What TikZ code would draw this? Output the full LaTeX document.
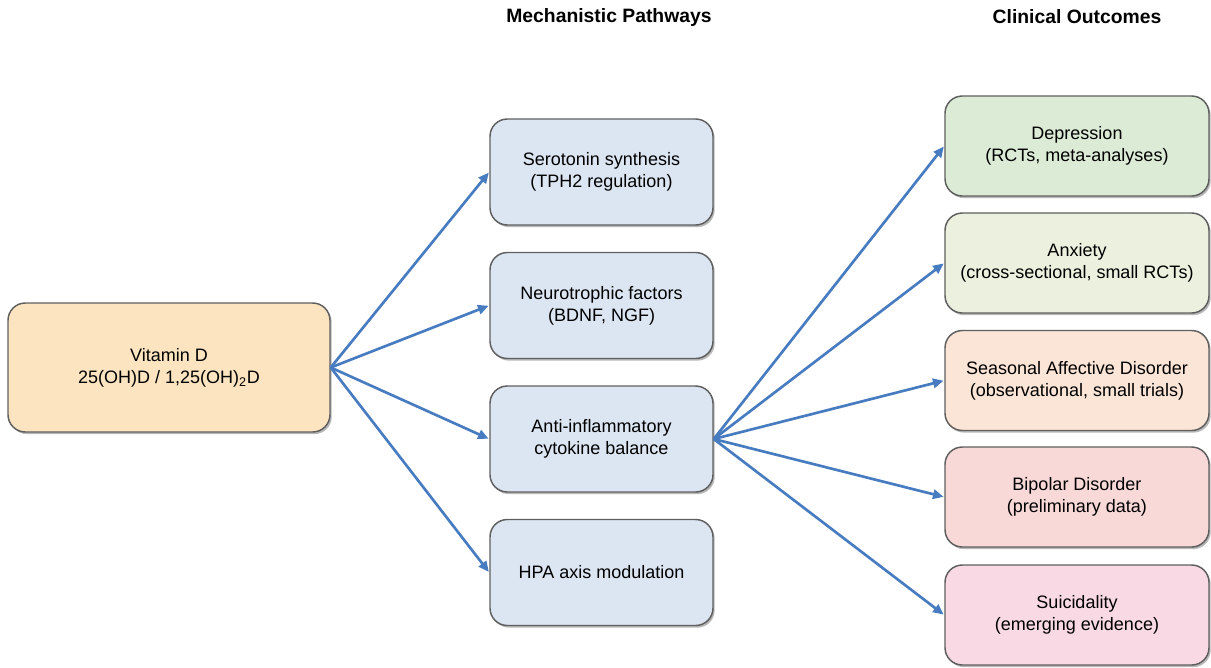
\documentclass[tikz,border=0pt]{standalone}
\usepackage{fontspec}
\setmainfont{Liberation Sans}
\usetikzlibrary{arrows.meta,shadows}

\definecolor{vitfill}{RGB}{252,228,192}
\definecolor{mechfill}{RGB}{220,230,242}
\definecolor{depfill}{RGB}{219,235,213}
\definecolor{anxfill}{RGB}{235,241,222}
\definecolor{sadfill}{RGB}{251,229,214}
\definecolor{bipfill}{RGB}{249,216,216}
\definecolor{suifill}{RGB}{248,217,228}
\definecolor{edge}{RGB}{95,95,95}
\definecolor{link}{RGB}{72,124,193}

\newdimen\px
\px=0.75pt

\tikzset{
  box/.style={draw=edge, line width=1.1pt, rounded corners=13pt, align=center,
    inner sep=2pt, font=\fontsize{13.5}{16.5}\selectfont,
    drop shadow={shadow xshift=1.3pt, shadow yshift=-1.6pt, fill=black, opacity=0.28}},
  vitbox/.style={box, fill=vitfill, minimum width=322\px, minimum height=129\px},
  mechbox/.style={box, fill=mechfill, minimum width=223\px, minimum height=106\px},
  outbox/.style={box, minimum width=264\px, minimum height=100\px},
  header/.style={font=\bfseries\fontsize{14.5}{17}\selectfont},
  link/.style={draw=link, line width=2pt, -{Triangle[length=8pt,width=7pt]}, shorten >=0.5pt}
}

\begin{document}
\begin{tikzpicture}[x=0.75pt, y=-0.75pt]
  \useasboundingbox (0,0) rectangle (1211,668);

  % column headings
  \node[header] (hmech) at (609,17) {Mechanistic Pathways};
  \node[header] (hout) at (1077,17) {Clinical Outcomes};

  % source
  \node[vitbox] (vit) at (169,367.5) {Vitamin D\\25(OH)D / 1,25(OH)\textsubscript{2}D};

  % mechanistic pathways
  \node[mechbox] (sero) at (601.5,172) {Serotonin synthesis\\(TPH2 regulation)};
  \node[mechbox] (neuro) at (601.5,305.5) {Neurotrophic factors\\(BDNF, NGF)};
  \node[mechbox] (infl) at (601.5,439) {Anti-inflammatory\\cytokine balance};
  \node[mechbox] (hpa) at (601.5,572.5) {HPA axis modulation};

  % clinical outcomes
  \node[outbox, fill=depfill] (dep) at (1077,146) {Depression\\(RCTs, meta-analyses)};
  \node[outbox, fill=anxfill] (anx) at (1077,263) {Anxiety\\(cross-sectional, small RCTs)};
  \node[outbox, fill=sadfill] (sad) at (1077,380.5) {Seasonal Affective Disorder\\(observational, small trials)};
  \node[outbox, fill=bipfill] (bip) at (1077,497) {Bipolar Disorder\\(preliminary data)};
  \node[outbox, fill=suifill] (sui) at (1077,615) {Suicidality\\(emerging evidence)};

  % vitamin D to pathways
  \foreach \t in {sero,neuro,infl,hpa}
    \draw[link] (vit.east) -- (\t.west);

  % inflammation pathway to outcomes
  \foreach \t in {dep,anx,sad,bip,sui}
    \draw[link] (infl.east) -- (\t.west);
\end{tikzpicture}
\end{document}
